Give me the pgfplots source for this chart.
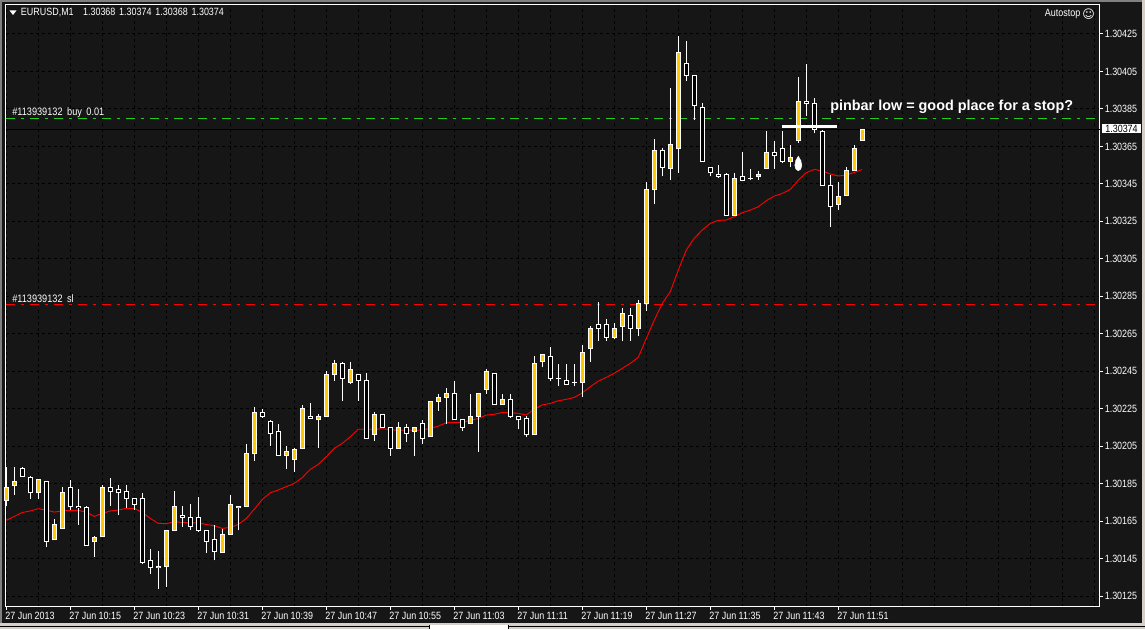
\documentclass[border=0pt]{standalone}
\usepackage{fontspec}
\setmainfont[FakeStretch=0.85]{Liberation Sans}
\newfontfamily\boldfont[FakeStretch=1.0]{Liberation Sans Bold}
\newfontfamily\symfont{DejaVu Sans}
\usepackage{pgfplots}
\usepackage{pgfplotstable}
\pgfplotsset{compat=1.18}
\definecolor{chartbg}{HTML}{161616}
\definecolor{candleyellow}{HTML}{FFC800}
\definecolor{linegreen}{HTML}{22CC22}
\definecolor{chrome}{HTML}{D4D0C8}
\newcommand\chartfont{\fontsize{7.9pt}{9pt}\selectfont}
% prices are written in 0.00001 units above 1.30000 (213 = 1.30213), which keeps pgfplots' arithmetic exact
% columns: minute index, low, lower body edge, upper body edge, high
\pgfplotstableread{
i L B T H
0 173 176 183 194
1 179 184 186 194
4 177 180 187 187
6 155 155 163 166
7 161 161 180 183
11 146 154 156 157
12 157 157 183 184
19 129 140 141 149
20 130 141 160 160
21 160 160 173 181
27 148 148 158 161
28 158 158 174 179
29 160 172 173 173
30 173 173 201 206
31 197 201 223 226
35 193 200 202 205
36 191 198 203 204
37 204 204 225 227
39 204 219 221 222
40 221 221 243 245
41 240 243 249 251
43 238 239 246 250
46 208 211 222 223
49 204 204 215 218
51 200 213 215 215
53 210 210 229 229
54 224 229 231 233
55 217 231 233 236
58 217 217 221 233
59 202 221 233 233
60 233 235 245 246
62 227 227 230 233
66 211 211 249 253
67 247 250 254 254
72 231 239 255 259
73 250 257 268 269
76 262 263 268 271
77 261 269 276 279
79 264 268 281 283
80 277 281 342 346
81 334 342 363 369
83 347 353 366 396
84 351 364 415 424
91 328 328 348 351
94 347 349 350 352
95 353 353 362 373
98 354 357 359 366
99 367 368 389 402
104 331 334 338 346
105 339 339 352 354
106 352 352 364 366
107 368 368 374 374
}\yellowbars
\pgfplotstableread{
i L B T H
2 189 189 193 194
3 177 180 188 189
5 151 154 186 186
8 171 173 183 187
9 163 172 173 182
10 152 152 172 173
13 173 181 183 188
14 168 180 182 184
15 172 177 181 184
16 171 174 177 177
17 142 143 177 180
18 137 140 144 150
22 162 167 168 173
23 160 162 167 174
24 159 160 167 178
25 148 154 160 160
26 144 149 155 163
32 220 221 223 225
33 205 212 218 219
34 200 200 213 217
38 220 220 221 228
42 229 241 249 250
44 229 240 243 243
45 209 209 240 244
47 215 215 222 222
48 200 204 215 215
50 207 212 215 217
52 206 209 217 219
56 219 219 233 240
57 213 215 219 219
61 227 227 244 244
63 220 221 230 233
64 214 219 221 221
65 210 211 220 221
68 240 241 253 258
70 238 238 240 249
74 261 268 270 282
75 261 263 270 273
78 261 268 275 279
82 349 354 363 364
85 400 403 409 421
86 379 387 403 403
87 357 357 386 388
88 349 351 354 354
89 348 349 350 355
90 328 328 350 351
92 347 347 349 362
96 353 360 362 368
97 356 357 364 373
100 381 388 389 409
101 372 374 388 391
102 344 344 373 374
103 322 333 344 350
}\blackbars
\pgfplotstableread{
i L B T H
69 237 241 241 249
71 237 239 239 249
93 347 348 348 353
}\dojibars
\pgfplotstableread{
i ma
0 165.4
1 167.5
2 169.6
3 170.4
4 171.6
5 170.9
6 169.8
7 170.4
8 170.7
9 170.7
10 169.8
11 167.5
12 169.1
13 170.4
14 170.9
15 171.8
16 171.8
17 169.6
18 166.4
19 163.8
20 163.6
21 164.7
22 164.3
23 164.0
24 164.0
25 163.2
26 162.5
27 161.1
28 161.6
29 163.2
30 166.4
31 171.3
32 176.6
33 180.1
34 181.6
35 183.4
36 185.1
37 188.2
38 192.6
39 195.3
40 199.4
41 203.8
42 206.5
43 210.0
44 214.0
45 214.0
46 214.0
47 214.3
48 213.8
49 213.4
50 213.6
51 213.4
52 213.6
53 214.5
54 215.7
55 217.5
56 217.7
57 217.7
58 218.8
59 219.7
60 221.6
61 222.0
62 223.0
63 222.9
64 222.5
65 221.6
66 224.8
67 227.0
68 227.8
69 229.2
70 230.0
71 231.0
72 233.5
73 236.7
74 239.7
75 241.7
76 243.9
77 246.5
78 249.2
79 252.4
80 262.5
81 272.3
82 281.2
83 287.5
84 299.0
85 309.7
86 316.0
87 320.4
88 323.9
89 325.5
90 325.7
91 327.5
92 329.6
93 331.0
94 332.8
95 336.0
96 338.5
97 339.9
98 342.0
99 347.0
100 351.0
101 352.7
102 351.9
103 350.3
104 349.2
105 349.7
106 351.1
107 352.7
}\matable
\pgfplotsset{
  wick/.style={forget plot, draw=none, mark=none,
    error bars/.cd, y dir=plus, y explicit, error mark=none,
    error bar style={white, line width=0.75pt}},
  outerbody/.style={forget plot, draw=none, mark=none,
    error bars/.cd, y dir=plus, y explicit, error mark=none,
    error bar style={white, line width=3.75pt}},
  innerbody/.style={forget plot, draw=none, mark=none,
    error bars/.cd, y dir=plus, y explicit, error mark=none,
    error bar style={#1, line width=2.25pt}},
}
\begin{document}
\begin{tikzpicture}
\path[use as bounding box, fill=chartbg] (0,0) rectangle (858.75pt,471.75pt);
\begin{axis}[
  at={(4.275pt,16.875pt)}, anchor=south west, scale only axis,
  width=820.35pt, height=451.5pt,
  xmin=-0.075, xmax=136.65, ymin=119.4, ymax=440.75,
  clip=false,
  axis line style={white, line width=0.75pt},
  xtick={0,8,...,104},
  xticklabels={27 Jun 2013,27 Jun 10:15,27 Jun 10:23,27 Jun 10:31,27 Jun 10:39,27 Jun 10:47,27 Jun 10:55,27 Jun 11:03,27 Jun 11:11,27 Jun 11:19,27 Jun 11:27,27 Jun 11:35,27 Jun 11:43,27 Jun 11:51},
  minor xtick={4,12,...,100,108,112,...,136},
  ytick={125,145,...,425},
  yticklabels={1.30125,1.30145,1.30165,1.30185,1.30205,1.30225,1.30245,1.30265,1.30285,1.30305,1.30325,1.30345,1.30365,1.30385,1.30405,1.30425},
  xtick pos=bottom, ytick pos=right, yticklabel pos=right,
  tick align=outside, major tick length=2.25pt, minor tick length=0pt,
  tick style={white, line width=0.75pt},
  xmajorgrids, xminorgrids, ymajorgrids,
  major grid style={black, line width=0.75pt, dash pattern=on 2.25pt off 2.25pt},
  minor grid style={black, line width=0.75pt, dash pattern=on 2.25pt off 2.25pt},
  xticklabel style={anchor=north west, inner sep=0pt, text=white, font=\chartfont, xshift=-0.9pt, yshift=-1.5pt},
  yticklabel style={anchor=west, inner sep=0pt, text=white, font=\chartfont, xshift=1.5pt},
]
% order lines and moving average
\addplot[forget plot, linegreen, line width=0.75pt, dash pattern=on 6.75pt off 4.5pt on 2.25pt off 4.5pt] coordinates {(-0.075,379.9) (136.65,379.9)};
\addplot[forget plot, color={rgb,1:red,1;green,0;blue,0}, line width=0.8pt, dash pattern=on 6.75pt off 4.5pt on 2.25pt off 4.5pt] coordinates {(-0.075,280.6) (136.65,280.6)};
\addplot[forget plot, black, line width=0.75pt] coordinates {(-0.075,374) (136.65,374)};
\addplot[forget plot, color={rgb,1:red,1;green,0;blue,0}, line width=0.7pt] table[x=i, y=ma] {\matable};
% wicks
\addplot[wick] table[x=i, y=L, y error plus expr=\thisrow{H}-\thisrow{L}] {\yellowbars};
\addplot[wick] table[x=i, y=L, y error plus expr=\thisrow{H}-\thisrow{L}] {\blackbars};
\addplot[wick] table[x=i, y=L, y error plus expr=\thisrow{H}-\thisrow{L}] {\dojibars};
% bodies: white outline half a pixel beyond the edges, fill half a pixel inside
\addplot[outerbody] table[x=i, y expr=\thisrow{B}-0.267, y error plus expr=\thisrow{T}-\thisrow{B}+0.534] {\yellowbars};
\addplot[outerbody] table[x=i, y expr=\thisrow{B}-0.267, y error plus expr=\thisrow{T}-\thisrow{B}+0.534] {\blackbars};
\addplot[outerbody] table[x=i, y expr=\thisrow{B}-0.267, y error plus expr=\thisrow{T}-\thisrow{B}+0.534] {\dojibars};
\addplot[innerbody=candleyellow] table[x=i, y expr=\thisrow{B}+0.267, y error plus expr=\thisrow{T}-\thisrow{B}-0.534] {\yellowbars};
\addplot[innerbody=black] table[x=i, y expr=\thisrow{B}+0.267, y error plus expr=\thisrow{T}-\thisrow{B}-0.534] {\blackbars};
% annotations drawn on the chart
\addplot[forget plot, white, line width=2.25pt] coordinates {(96.96,375.6) (103.84,375.6)};
\addplot[forget plot, only marks, white, mark=*, mark size=2.6pt, mark options={yscale=1.6}] coordinates {(99,355)};
\addplot[forget plot, only marks, white, mark=triangle*, mark size=2.4pt] coordinates {(99,358)};
\end{axis}
\begin{scope}[yshift=471.75pt, x=0.75pt, y=-0.75pt]
\fill[white] (9.5,10.5) -- (16.5,10.5) -- (13,15) -- cycle;
\node[anchor=west, inner sep=0pt, text=white, font=\chartfont] at (20.7,13) {\spaceskip=2.85pt EURUSD,M1\ \hspace{4.2pt}1.30368 1.30374 1.30368 1.30374};
\node[anchor=west, inner sep=0pt, text=white, font=\chartfont] at (12,113) {\spaceskip=3.4pt \fontsize{8.1pt}{9pt}\selectfont\#113939132 buy 0.01};
\node[anchor=west, inner sep=0pt, text=white, font=\chartfont] at (12,299) {\spaceskip=3.4pt \fontsize{8.1pt}{9pt}\selectfont\#113939132 sl};
\node[anchor=east, inner sep=0pt, text=white, font=\chartfont] at (1080.5,14) {Autostop};
\node[anchor=center, inner sep=0pt, text=white, font={\fontsize{9pt}{10pt}\symfont}] at (1088.5,14) {☺};
\node[anchor=west, inner sep=0pt, text=white, font={\fontsize{10.8pt}{12pt}\boldfont}] at (830,106.5) {pinbar low = good place for a stop?};
\fill[white] (1102,124) rectangle (1141,133.5);
\node[anchor=center, inner sep=0pt, text=black, font=\chartfont] at (1121.5,129) {1.30374};
% window border and tab strip
\fill[gray] (0,0) rectangle (1145,2);
\fill[gray] (0,0) rectangle (1.5,623);
\fill[chrome] (1142,0) rectangle (1145,629);
\fill[chrome] (0,623) rectangle (1145,629);
\fill[white] (430,625) rectangle (508,629);
\fill[black] (429,625) rectangle (430,629);
\fill[black] (508,625) rectangle (509,629);
\fill[black] (0,625.5) rectangle (429,626);
\fill[black] (508,625.5) rectangle (1145,626);
\end{scope}
\end{tikzpicture}
\end{document}
